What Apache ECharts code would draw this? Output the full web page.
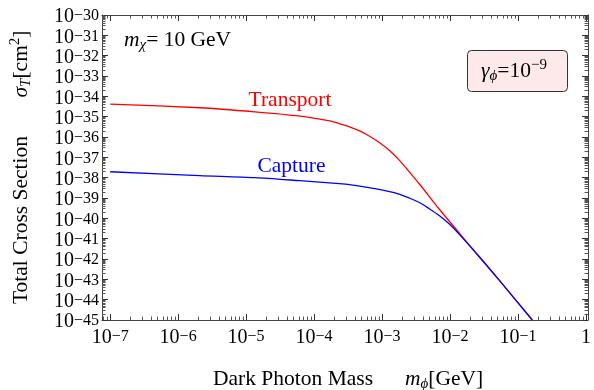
<!DOCTYPE html>
<html>
<head>
<meta charset="utf-8">
<script src="https://cdn.jsdelivr.net/npm/echarts@6/dist/echarts.min.js"></script>
<style>
  html, body { margin: 0; padding: 0; background: #fff; }
  #main { width: 594px; height: 390px; }
</style>
</head>
<body>
<div id="main"></div>
<script>
// everything is in log10 units: mass exponent (GeV) and cross section exponent (cm^2)
const transportMass = [-7.00, -5.68, -4.87, -4.21, -3.77, -3.63, -3.48, -3.33, -3.19, -3.04, -2.89, -2.74, -2.64, -2.45, -2.16, -1.86, -1.57, -1.28, -0.79]
const transportSigma = [-34.38, -34.56, -34.76, -34.97, -35.21, -35.34, -35.50, -35.70, -35.95, -36.27, -36.66, -37.16, -37.55, -38.31, -39.54, -40.74, -41.89, -43.03, -45.00]

const captureMass = [-7.00, -5.68, -4.87, -4.21, -3.63, -3.48, -2.99, -2.74, -2.45, -2.30, -2.16, -2.01, -1.86, -1.57, -1.28, -0.79]
const captureSigma = [-37.71, -37.90, -38.00, -38.15, -38.29, -38.34, -38.61, -38.82, -39.22, -39.54, -39.86, -40.28, -40.80, -41.89, -43.03, -45.00]

const xTicks = [-7, -6, -5, -4, -3, -2, -1, 0]
const yTicks = [-45, -44, -43, -42, -41, -40, -39, -38, -37, -36, -35, -34, -33, -32, -31, -30]

const xMin = -7.12, xMax = 0.03
const yMin = -45.001, yMax = -29.999

const serif = 'Liberation Serif'
const frame = '#444'

// 2..9 ticks of each decade, inside the range
function minorTicks(lo, hi) {
  let list = []
  for (let d = Math.floor(lo); d < hi; d++) {
    for (let k = 2; k <= 9; k++) {
      let v = d + Math.log10(k)
      if (v > lo && v < hi) list.push(v)
    }
  }
  return list
}

const rich = {
  b: {fontFamily: serif, fontSize: 20, lineHeight: 14, padding: [4, 0, 0, 0], color: '#000'},
  s: {fontFamily: serif, fontSize: 16, lineHeight: 10, verticalAlign: 'top', color: '#000'},
}

function powLabel(v) {
  if (v === 0) return '{b|1}'
  return '{b|10}{s|\u2212' + Math.abs(v) + '}'
}

function pairs(xs, ys) {
  return xs.map((x, i) => [x, ys[i]])
}

function isX(pos) {
  return pos === 'bottom' || pos === 'top'
}

function baseAxis(pos) {
  return {
    type: 'value', position: pos,
    min: isX(pos) ? xMin : yMin,
    max: isX(pos) ? xMax : yMax,
    axisLine: {show: false, onZero: false},
    axisTick: {show: false},
    axisLabel: {show: false},
    splitLine: {show: false}
  }
}

function majorAxis(pos, values) {
  let a = baseAxis(pos)
  a.axisLine = {show: true, onZero: false, lineStyle: {color: frame, width: 1}}
  a.axisTick = {show: true, inside: true, length: 6, customValues: values, lineStyle: {color: '#333', width: 1}}
  return a
}

function minorAxis(pos, values) {
  let a = baseAxis(pos)
  a.axisTick = {show: true, inside: true, length: 3.5, customValues: values, lineStyle: {color: '#555', width: 1}}
  return a
}

// labels only; the y labels are split over two axes so none gets dropped
function labelAxis(pos, values) {
  let a = baseAxis(pos)
  a.axisLabel = {
    show: true, customValues: values, formatter: powLabel, rich: rich,
    showMinLabel: true, showMaxLabel: true, hideOverlap: false,
    margin: isX(pos) ? 9 : 3
  }
  return a
}

const xMinor = minorTicks(xMin, xMax)
const yMinor = minorTicks(yMin, yMax)
const yEven = yTicks.filter(v => v % 2 === 0)
const yOdd = yTicks.filter(v => v % 2 !== 0)

const textFont = '21.5px "Liberation Serif"'
const titleRich = {
  n: {fontFamily: serif, fontSize: 21.5, lineHeight: 26, color: '#000'},
  i: {fontFamily: serif, fontSize: 21.5, lineHeight: 26, fontStyle: 'italic', color: '#000'},
  sub: {fontFamily: serif, fontSize: 15, lineHeight: 14, fontStyle: 'italic', verticalAlign: 'bottom', color: '#000'},
  sup: {fontFamily: serif, fontSize: 15, lineHeight: 14, verticalAlign: 'top', color: '#000'},
}

const chart = echarts.init(document.getElementById('main'))

let option = {
  animation: false,
  backgroundColor: '#fff',
  grid: {left: 102, right: 5, top: 15, bottom: 70},
  xAxis: [
    majorAxis('bottom', xTicks),
    minorAxis('bottom', xMinor),
    majorAxis('top', xTicks),
    minorAxis('top', xMinor),
    labelAxis('bottom', xTicks)
  ],
  yAxis: [
    majorAxis('left', yTicks),
    minorAxis('left', yMinor),
    majorAxis('right', yTicks),
    minorAxis('right', yMinor),
    labelAxis('left', yEven),
    labelAxis('left', yOdd)
  ],
  series: [
    {
      name: 'Transport',
      type: 'line',
      xAxisIndex: 0, yAxisIndex: 0,
      showSymbol: false,
      smooth: 0.25,
      lineStyle: {color: '#ff0000', width: 1.3},
      data: pairs(transportMass, transportSigma)
    },
    {
      name: 'Capture',
      type: 'line',
      xAxisIndex: 0, yAxisIndex: 0,
      showSymbol: false,
      smooth: 0.25,
      lineStyle: {color: '#0000ff', width: 1.3},
      data: pairs(captureMass, captureSigma)
    }
  ],
  graphic: [
    {
      type: 'text', left: 124, top: 29,
      style: {text: '{i|m}{sub|\u03c7}{n|= 10 GeV}', rich: titleRich}
    },
    {
      type: 'text', x: 290, y: 100,
      style: {text: 'Transport', fill: '#ff0000', font: textFont, textAlign: 'center', textVerticalAlign: 'middle'}
    },
    {
      type: 'text', x: 291.5, y: 166,
      style: {text: 'Capture', fill: '#0000ff', font: textFont, textAlign: 'center', textVerticalAlign: 'middle'}
    },
    {
      type: 'rect',
      shape: {x: 467.5, y: 50.5, width: 100, height: 41, r: 4},
      style: {fill: '#fde9e9', stroke: '#333', lineWidth: 1}
    },
    {
      type: 'text', x: 514, y: 71,
      style: {text: '{i|\u03b3}{sub|\u03d5}{n|=10}{sup|\u22129}', rich: titleRich, textAlign: 'center', textVerticalAlign: 'middle'}
    },
    {
      type: 'text', x: 213, y: 379,
      style: {text: 'Dark Photon Mass', font: textFont, fill: '#000', textAlign: 'left', textVerticalAlign: 'middle'}
    },
    {
      type: 'text', x: 405, y: 379,
      style: {text: '{i|m}{sub|\u03d5}{n|[GeV]}', rich: titleRich, textAlign: 'left', textVerticalAlign: 'middle'}
    },
    {
      type: 'text', x: 21, y: 220, rotation: Math.PI / 2,
      style: {text: 'Total Cross Section', font: textFont, fill: '#000', textAlign: 'center', textVerticalAlign: 'middle'}
    },
    {
      type: 'text', x: 21, y: 64, rotation: Math.PI / 2,
      style: {text: '{i|\u03c3}{sub|T}{n|[cm}{sup|2}{n|]}', rich: titleRich, textAlign: 'center', textVerticalAlign: 'middle'}
    }
  ]
}

chart.setOption(option)
</script>
</body>
</html>
